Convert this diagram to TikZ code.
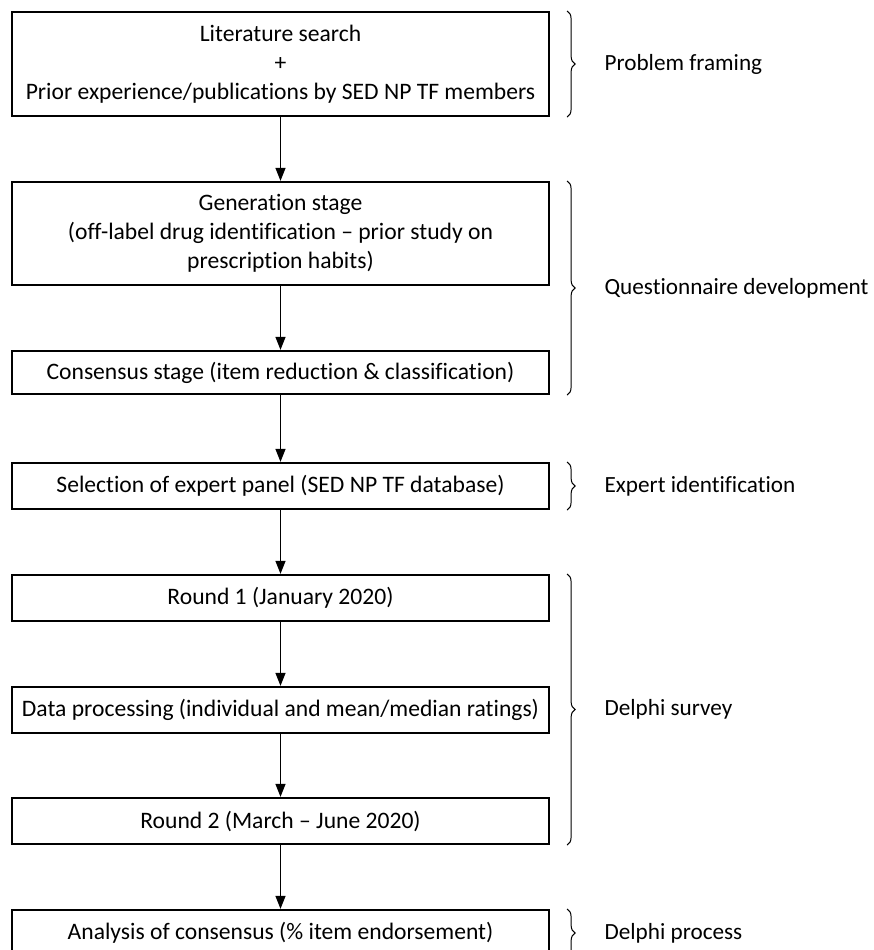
\documentclass[tikz,border=0pt]{standalone}
\usepackage{fontspec}
\setmainfont{Carlito}[Ligatures=CommonOff]
\usepackage{tikz}
\usetikzlibrary{positioning,arrows.meta,decorations.pathreplacing}

\begin{document}
\begin{tikzpicture}[x=0.5pt,y=-0.5pt,
    stage/.style={draw,line width=1.1pt,minimum width=268.5pt,minimum height=23pt,inner sep=0pt,align=center,font=\fontsize{11.8}{14.5}\selectfont},
    flow/.style={-{Triangle[length=6.5pt,width=5pt]},line width=0.6pt},
    phase/.style={decorate,decoration={brace,amplitude=4pt},line width=0.5pt},
    phaselabel/.style={anchor=west,inner sep=0pt,xshift=18.5pt,font=\fontsize{11.6}{14.5}\selectfont}]
  \useasboundingbox (0,0) rectangle (874,950);
      % boxes of the flow
      \node[stage,minimum height=52pt] (Lit) at (280.5,64) {Literature search\\+\\Prior experience/publications by SED NP TF members};
      \node[stage,minimum height=51.5pt] (Gen) at (280.5,233.5) {Generation stage\\(off-label drug identification -- prior study on\\prescription habits)};
      \node[stage,minimum height=21.5pt] (Cons) at (280.5,372.5) {Consensus stage (item reduction \& classification)};
      \node[stage] (Sel) at (280.5,486) {Selection of expert panel (SED NP TF database)};
      \node[stage] (RndA) at (280.5,598) {Round 1 (January 2020)};
      \node[stage] (Proc) at (280.5,710) {Data processing (individual and mean/median ratings)};
      \node[stage] (RndB) at (280.5,821) {Round 2 (March -- June 2020)};
      \node[stage] (Ana) at (280.5,933) {Analysis of consensus (\% item endorsement)};
      \foreach \x/\y in {Lit/Gen,Gen/Cons,Cons/Sel,Sel/RndA,RndA/Proc,Proc/RndB,RndB/Ana}
               {\draw[flow] (\x) -- (\y);}
      % braces with the phases
      \draw[phase] ([xshift=8.5pt]Lit.north east) -- node[phaselabel] (PhA) {Problem framing} ([xshift=8.5pt]Lit.south east);
      \draw[phase] ([xshift=8.5pt]Gen.north east) -- node[phaselabel] (PhB) {Questionnaire development} ([xshift=8.5pt]Cons.south east);
      \draw[phase] ([xshift=8.5pt]Sel.north east) -- node[phaselabel] (PhC) {Expert identification} ([xshift=8.5pt]Sel.south east);
      \draw[phase] ([xshift=8.5pt]RndA.north east) -- node[phaselabel] (PhD) {Delphi survey} ([xshift=8.5pt]RndB.south east);
      \draw[phase] ([xshift=8.5pt]Ana.north east) -- node[phaselabel] (PhE) {Delphi process} ([xshift=8.5pt]Ana.south east);
\end{tikzpicture}
\end{document}
